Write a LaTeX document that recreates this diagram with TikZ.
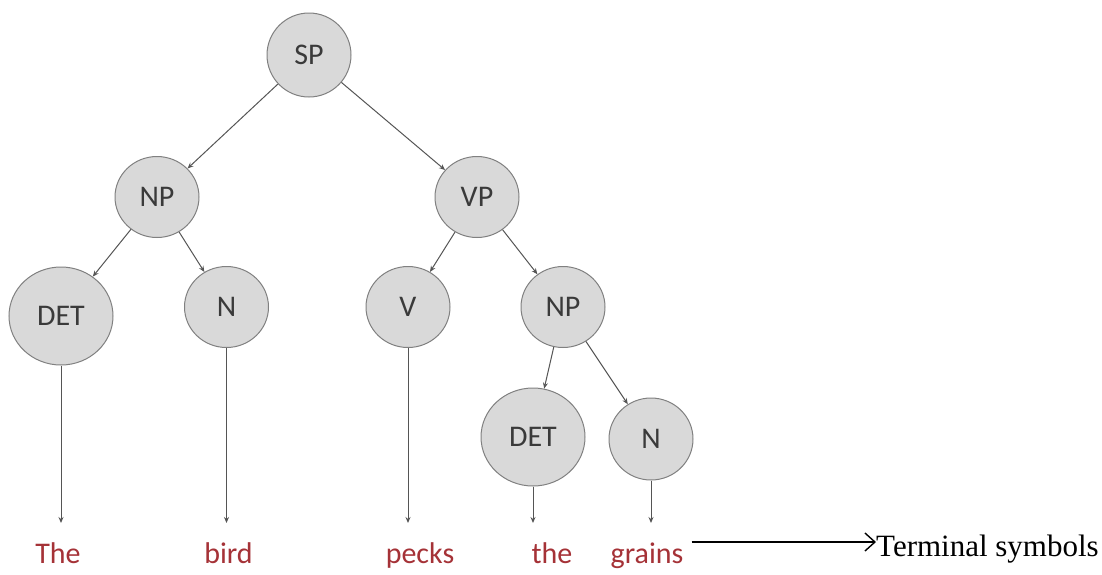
\documentclass[tikz,border=0pt]{standalone}
\usepackage{fontspec}
\setmainfont{Liberation Serif}
\newfontfamily\calib{Carlito}
\usetikzlibrary{shapes.geometric,arrows.meta}
\definecolor{nodefill}{HTML}{D9D9D9}
\definecolor{nodeline}{HTML}{808080}
\definecolor{labelgray}{HTML}{3A3A3A}
\definecolor{termred}{RGB}{165,50,55}
\definecolor{edgegray}{HTML}{555555}
\tikzset{
  tnode/.style={ellipse, draw=nodeline, fill=nodefill, line width=1pt, inner sep=0pt,
    text=labelgray, font=\calib\fontsize{30}{36}\selectfont},
  small/.style={tnode, minimum width=84pt, minimum height=81pt},
  big/.style={tnode, minimum width=104pt, minimum height=98pt},
  edge/.style={draw=edgegray, line width=1pt, -{Stealth[length=6pt,width=5pt]}},
  term/.style={anchor=base, text=termred, inner sep=0pt, font=\calib\fontsize{30}{36}\selectfont}
}
\begin{document}
\begin{tikzpicture}[x=1pt,y=-1pt]
\useasboundingbox (0,0) rectangle (1102,574);
\node[small, minimum width=84pt, minimum height=84pt] (SP) at (309,55) {SP};
\node[small] (NP) at (157,197) {NP};
\node[small] (VP) at (477,197) {VP};
\node[big] (DET) at (61,316) {DET};
\node[small] (N) at (226.5,307) {N};
\node[small] (V) at (408,307) {V};
\node[small] (NPb) at (563,307) {NP};
\node[big] (DETb) at (533,437) {DET};
\node[small, minimum height=82pt] (Nb) at (651,439) {N};

\coordinate (t1) at (61,523);
\coordinate (t2) at (226.5,523);
\coordinate (t3) at (408,523);
\coordinate (t4) at (533,523);
\coordinate (t5) at (651,523);

\draw[edge] (SP) -- (NP);
\draw[edge] (SP) -- (VP);
\draw[edge] (NP) -- (DET);
\draw[edge] (NP) -- (N);
\draw[edge] (VP) -- (V);
\draw[edge] (VP) -- (NPb);
\draw[edge] (NPb) -- (DETb);
\draw[edge] (NPb) -- (Nb);
\draw[edge] (DET) -- (t1);
\draw[edge] (N) -- (t2);
\draw[edge] (V) -- (t3);
\draw[edge] (DETb) -- (t4);
\draw[edge] (Nb) -- (t5);

\node[term] (w1) at (58,563) {The};
\node[term] (w2) at (228.5,563) {bird};
\node[term] (w3) at (420,563) {pecks};
\node[term] (w4) at (552,563) {the};
\node[term] (w5) at (647,563) {grains};

\node[anchor=base west, inner sep=0pt, font=\fontsize{31}{37}\selectfont] (ts) at (876,556) {Terminal symbols};
\draw[line width=1.4pt, -{Straight Barb[length=10pt,width=18pt]}] (w5.east |- 0,542) ++(8,0) coordinate (a0) -- (ts.west |- a0);
\end{tikzpicture}
\end{document}
